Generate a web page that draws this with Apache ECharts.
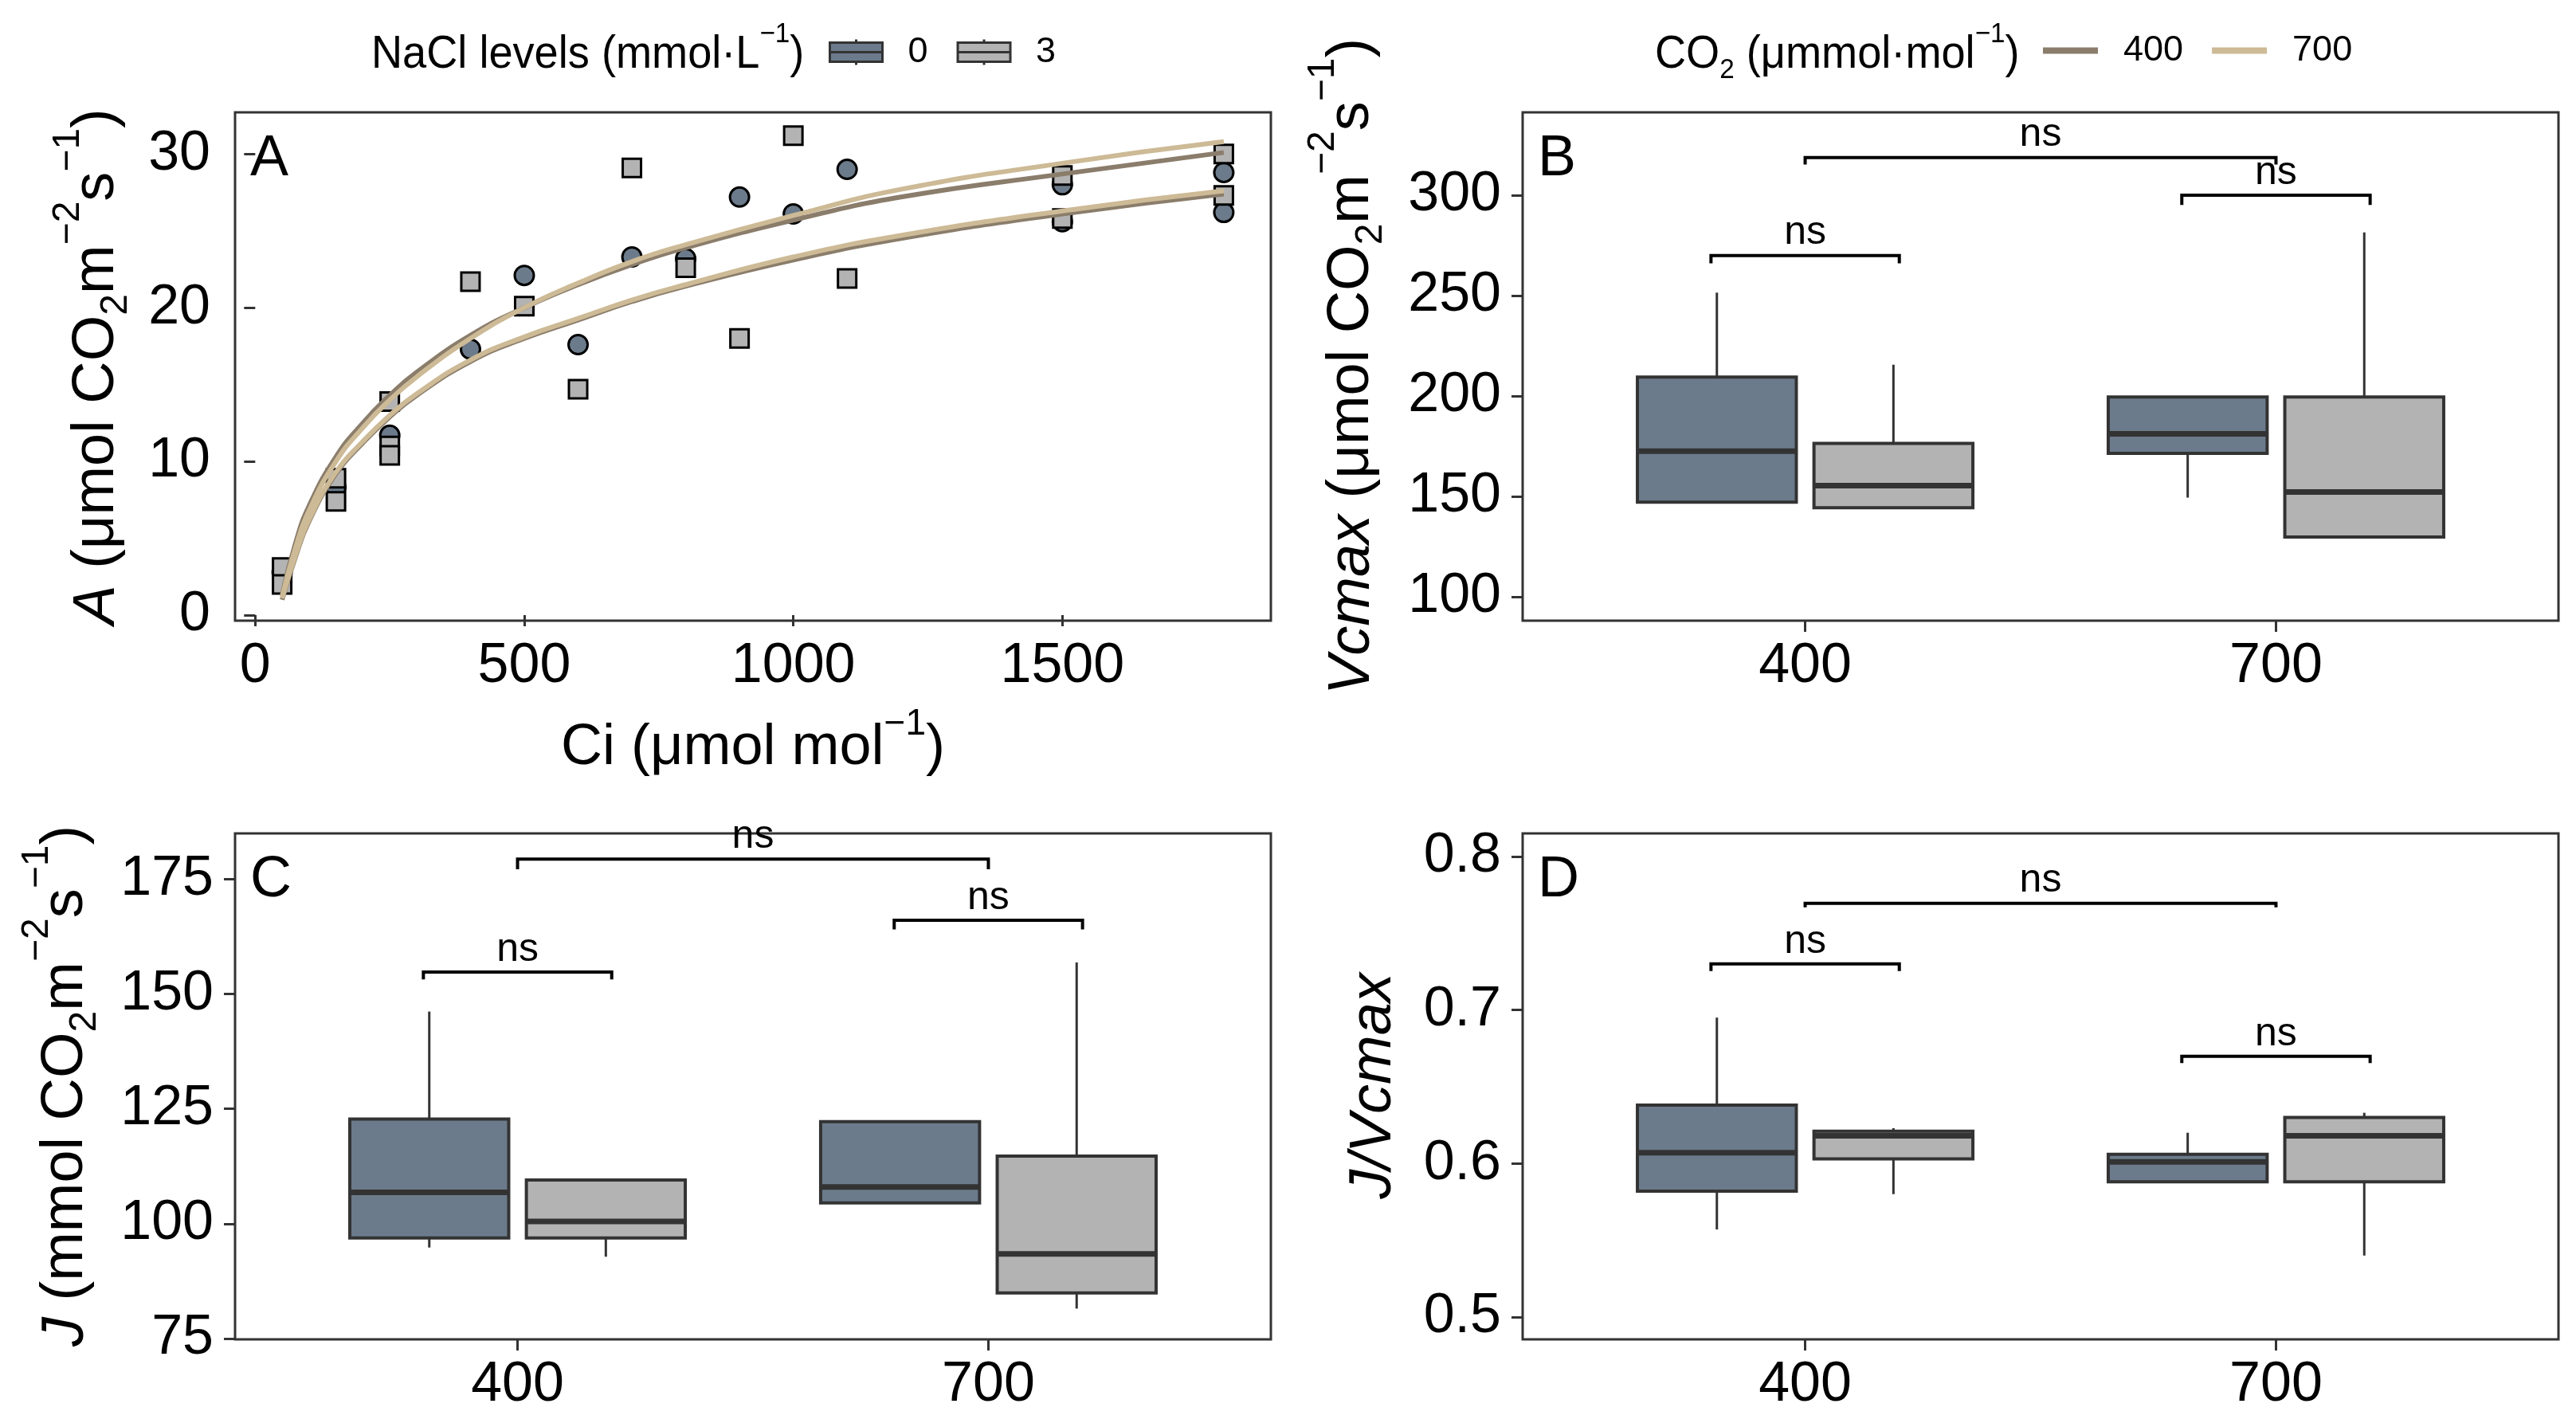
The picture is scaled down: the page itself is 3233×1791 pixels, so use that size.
<!DOCTYPE html>
<html>
<head>
<meta charset="utf-8">
<script src="https://cdn.jsdelivr.net/npm/echarts@6/dist/echarts.min.js"></script>
<style>
  html, body { margin: 0; padding: 0; background: #ffffff; }
  #chart { width: 3233px; height: 1791px; }
</style>
</head>
<body>
<div id="chart"></div>
<script>
// ---- panel A: A vs Ci ----
const ciTicks = [0, 500, 1000, 1500];
const aTicks = [0, 10, 20, 30];
const nacl0Points = [
  [50, 2.8], [150, 8.3], [250, 11.7], [400, 17.3], [500, 22.1], [600, 17.6],
  [700, 23.3], [800, 23.2], [900, 27.2], [1000, 26.1], [1100, 29.0],
  [1500, 28.0], [1500, 25.6], [1800, 28.8], [1800, 26.2]
];
const nacl3Points = [
  [50, 3.1], [50, 2.0], [150, 8.9], [150, 7.4], [250, 13.9], [250, 11.0], [250, 10.4],
  [400, 21.7], [500, 20.1], [600, 14.7], [700, 29.1], [800, 22.6], [900, 18.0],
  [1000, 31.2], [1100, 21.9], [1500, 28.6], [1500, 25.8], [1800, 30.0], [1800, 27.3]
];
const curveCi = [50, 75, 100, 150, 200, 250, 300, 400, 500, 600, 700, 800, 1000, 1200, 1500, 1800];
const curveHigh400 = [1.3, 4.7, 7.1, 10.3, 12.5, 14.3, 15.8, 18.2, 20.0, 21.5, 22.8, 23.9, 25.7, 27.2, 28.7, 30.1];
const curveHigh700 = [1.2, 4.4, 6.8, 10.0, 12.2, 14.0, 15.5, 18.0, 20.0, 21.6, 23.0, 24.1, 26.0, 27.7, 29.4, 30.8];
const curveLow400 = [1.0, 3.8, 6.1, 9.2, 11.2, 12.9, 14.3, 16.5, 18.0, 19.2, 20.4, 21.4, 23.1, 24.5, 26.1, 27.4];
const curveLow700 = [1.1, 3.9, 6.2, 9.3, 11.3, 13.0, 14.4, 16.6, 18.1, 19.3, 20.5, 21.5, 23.3, 24.7, 26.3, 27.6];

// ---- panels B-D: boxplots, rows are [group, min, q1, median, q3, max] ----
const co2Groups = ['400', '700'];
const vcmaxTicks = [100, 150, 200, 250, 300];
const vcmaxNacl0 = [[1, 147.1, 147.1, 172.5, 209.4, 251.5], [2, 149.4, 171.4, 181.2, 199.5, 199.5]];
const vcmaxNacl3 = [[1, 144.4, 144.4, 155.4, 176.4, 215.6], [2, 129.8, 129.8, 152.2, 199.5, 281.5]];
const vcmaxBrackets = [[1, 2, 318.8, 315.3], [1.8, 2.2, 300.0, 295.2], [0.8, 1.2, 270.0, 266.1]];

const jTicks = [75, 100, 125, 150, 175];
const jNacl0 = [[1, 94.8, 96.9, 106.8, 122.8, 146.2], [2, 104.5, 104.5, 108.0, 122.2, 122.2]];
const jNacl3 = [[1, 92.8, 96.9, 100.5, 109.5, 109.5], [2, 81.5, 84.9, 93.4, 114.7, 156.9]];
const jBrackets = [[1, 2, 179.4, 177.2], [1.8, 2.2, 166.1, 164.1], [0.8, 1.2, 154.8, 153.2]];

const ratioTicks = [0.5, 0.6, 0.7, 0.8];
const ratioNacl0 = [[1, 0.557, 0.582, 0.607, 0.638, 0.695], [2, 0.588, 0.588, 0.601, 0.606, 0.620]];
const ratioNacl3 = [[1, 0.580, 0.603, 0.618, 0.621, 0.623], [2, 0.540, 0.588, 0.618, 0.630, 0.633]];
const ratioBrackets = [[1, 2, 0.7695, 0.7668], [0.8, 1.2, 0.730, 0.7253], [1.8, 2.2, 0.6698, 0.6654]];
const sigLabels = ['ns', 'ns', 'ns'];

const FONT = 'Liberation Sans, Arial, sans-serif';
const NACL0_COLOR = '#6C7B8B';
const NACL3_COLOR = '#B3B3B3';
const CO2_400_COLOR = '#8B7D6B';
const CO2_700_COLOR = '#CDBA96';
const INK = '#333333';
const BOX_WIDTH = 0.3375;
const DODGE = 0.1875;

// rich text piece, all centred on the line; padding shifts sup / sub
function rt(size, extra) {
  return Object.assign({ fontSize: size, verticalAlign: 'middle', fontFamily: FONT,
    fontWeight: 'normal', color: '#000' }, extra || {});
}
const yTitleRich = {
  n: rt(74),
  i: rt(74, { fontStyle: 'italic' }),
  sup: rt(48, { padding: [0, 0, 72, 0] }),
  sub: rt(48, { padding: [48, 0, 0, 0] })
};
const xTitleRich = {
  n: rt(72),
  sup: rt(46, { padding: [0, 0, 59, 0] })
};
const headRich = {
  n: rt(57),
  sup: rt(35, { padding: [0, 0, 52, 0] }),
  sub: rt(35, { padding: [39, 0, 0, 0] })
};
const legendItemRich = {
  sp: { width: 27, fontSize: 45, fontFamily: FONT },
  t: rt(45, { lineHeight: 56 })
};

const grids = [
  { left: 295, top: 141, width: 1300, height: 638 },
  { left: 1911, top: 141, width: 1300, height: 638 },
  { left: 295, top: 1046, width: 1300, height: 635 },
  { left: 1911, top: 1046, width: 1300, height: 635 }
].map(g => Object.assign({ show: true, borderColor: INK, borderWidth: 3, backgroundColor: 'transparent' }, g));

function axisBase(gridIndex, min, max, ticks, margin) {
  return {
    type: 'value', gridIndex, min, max,
    splitLine: { show: false },
    axisLine: { show: false },
    axisTick: { show: true, customValues: ticks, length: 14, lineStyle: { color: INK, width: 3 } },
    axisLabel: { customValues: ticks, margin, fontSize: 70, fontFamily: FONT, color: '#000',
                 formatter: v => String(v) }
  };
}

function groupAxis(gridIndex) {
  const ax = axisBase(gridIndex, 0.4, 2.6, [1, 2], 23);
  ax.axisLabel.formatter = v => co2Groups[Math.round(v) - 1];
  return ax;
}

function boxRender(offset) {
  return function (params, api) {
    const x = api.value(0) + offset;
    const lo = api.coord([x, api.value(1)]);
    const q1 = api.coord([x, api.value(2)]);
    const md = api.coord([x, api.value(3)]);
    const q3 = api.coord([x, api.value(4)]);
    const hi = api.coord([x, api.value(5)]);
    const half = api.size([BOX_WIDTH, 0])[0] / 2;
    const whisker = { stroke: INK, lineWidth: 3 };
    return {
      type: 'group',
      children: [
        { type: 'line', shape: { x1: hi[0], y1: hi[1], x2: q3[0], y2: q3[1] }, style: whisker },
        { type: 'line', shape: { x1: q1[0], y1: q1[1], x2: lo[0], y2: lo[1] }, style: whisker },
        { type: 'rect', shape: { x: q3[0] - half, y: q3[1], width: half * 2, height: q1[1] - q3[1] },
          style: { fill: api.visual('color'), stroke: INK, lineWidth: 4 } },
        { type: 'line', shape: { x1: md[0] - half, y1: md[1], x2: md[0] + half, y2: md[1] },
          style: { stroke: INK, lineWidth: 7 } }
      ]
    };
  };
}

function bracketRender(params, api) {
  const a = api.coord([api.value(0), api.value(3)]);
  const b = api.coord([api.value(0), api.value(2)]);
  const c = api.coord([api.value(1), api.value(2)]);
  const d = api.coord([api.value(1), api.value(3)]);
  return {
    type: 'group',
    children: [
      { type: 'polyline', shape: { points: [a, b, c, d] }, style: { stroke: '#000', lineWidth: 4, fill: null } },
      { type: 'text', x: (b[0] + c[0]) / 2, y: b[1] - 3,
        style: { text: sigLabels[params.dataIndex], fontSize: 50, fontFamily: FONT, fill: '#000',
                 align: 'center', verticalAlign: 'bottom' } }
    ]
  };
}

function boxSeries(gridIndex, name, data, offset, color) {
  return {
    type: 'custom', name, xAxisIndex: gridIndex, yAxisIndex: gridIndex,
    renderItem: boxRender(offset), itemStyle: { color },
    encode: { x: 0, y: [1, 2, 3, 4, 5] }, data
  };
}

function bracketSeries(gridIndex, data) {
  return {
    type: 'custom', xAxisIndex: gridIndex, yAxisIndex: gridIndex, silent: true,
    renderItem: bracketRender, encode: { x: [0, 1], y: [2, 3] }, data
  };
}

function curveSeries(name, values, color) {
  return {
    type: 'line', name, xAxisIndex: 0, yAxisIndex: 0, smooth: true, showSymbol: false,
    lineStyle: { color, width: 6 }, itemStyle: { color }, z: 3,
    data: curveCi.map((ci, i) => [ci, values[i]])
  };
}

// axis titles and legend headings as free text
function yTitleText(x, y, text) {
  return { type: 'text', x, y, rotation: Math.PI / 2,
    style: { text, rich: yTitleRich, align: 'center', verticalAlign: 'middle' } };
}
function headText(x, text) {
  return { type: 'text', x, y: 69, scaleX: 0.95,
    style: { text, rich: headRich, align: 'left', verticalAlign: 'middle' } };
}

const letterStyle = { fontSize: 72, fontWeight: 'normal', fontFamily: FONT, color: '#000' };
const boxIcon = 'path://M0,4H66V28H0Z M0,16H66 M33,0V4 M33,28V32';

const option = {
  animation: false,
  backgroundColor: '#ffffff',
  grid: grids,
  title: [
    { text: 'A', left: 314, top: 164, padding: 0, textStyle: letterStyle },
    { text: 'B', left: 1930, top: 164, padding: 0, textStyle: letterStyle },
    { text: 'C', left: 314, top: 1069, padding: 0, textStyle: letterStyle },
    { text: 'D', left: 1930, top: 1069, padding: 0, textStyle: letterStyle }
  ],
  graphic: { elements: [
    headText(466, '{n|NaCl levels (mmol·L}{sup|−1}{n|)}'),
    headText(2077, '{n|CO}{sub|2}{n| (μmmol·mol}{sup|−1}{n|)}'),
    yTitleText(122, 460, '{i|A}{n| (μmol CO}{sub|2}{n|m}{sup|−2}{n|s}{sup|−1}{n|)}'),
    yTitleText(1697, 460, '{i|Vcmax}{n| (μmol CO}{sub|2}{n|m}{sup|−2}{n|s}{sup|−1}{n|)}'),
    yTitleText(83, 1363, '{i|J}{n| (mmol CO}{sub|2}{n|m}{sup|−2}{n|s}{sup|−1}{n|)}'),
    yTitleText(1724, 1363, '{i|J/Vcmax}'),
    { type: 'text', x: 945, y: 939,
      style: { text: '{n|Ci (μmol mol}{sup|−1}{n|)}', rich: xTitleRich, align: 'center', verticalAlign: 'middle' } }
  ] },
  legend: [
    {
      left: 1040, top: 43, padding: 0, itemWidth: 66, itemHeight: 32, itemGap: 36, selectedMode: false,
      formatter: name => '{sp| }{t|' + name + '}',
      textStyle: { rich: legendItemRich },
      data: [
        { name: '0', icon: boxIcon, itemStyle: { color: NACL0_COLOR, borderColor: INK, borderWidth: 3 } },
        { name: '3', icon: boxIcon, itemStyle: { color: NACL3_COLOR, borderColor: INK, borderWidth: 3 } }
      ]
    },
    {
      left: 2564, top: 41, padding: 0, itemWidth: 69, itemHeight: 8, itemGap: 36, selectedMode: false,
      formatter: name => '{sp| }{t|' + name + '}',
      textStyle: { rich: legendItemRich },
      data: [
        { name: '400', icon: 'rect', itemStyle: { color: CO2_400_COLOR, borderWidth: 0 } },
        { name: '700', icon: 'rect', itemStyle: { color: CO2_700_COLOR, borderWidth: 0 } }
      ]
    }
  ],
  xAxis: [axisBase(0, -37.5, 1887.5, ciTicks, 23), groupAxis(1), groupAxis(2), groupAxis(3)],
  yAxis: [
    axisBase(0, -0.36, 32.71, aTicks, 31),
    axisBase(1, 88.1, 341.3, vcmaxTicks, 27),
    axisBase(2, 74.8, 185.0, jTicks, 27),
    axisBase(3, 0.4854, 0.815, ratioTicks, 27)
  ],
  series: [
    {
      type: 'scatter', name: '0', xAxisIndex: 0, yAxisIndex: 0, symbol: 'circle', symbolSize: 24,
      itemStyle: { color: NACL0_COLOR, borderColor: '#000', borderWidth: 3, opacity: 1 }, z: 2, data: nacl0Points
    },
    {
      type: 'scatter', name: '3', xAxisIndex: 0, yAxisIndex: 0, symbol: 'rect', symbolSize: 23,
      itemStyle: { color: NACL3_COLOR, borderColor: '#000', borderWidth: 3, opacity: 1 }, z: 2, data: nacl3Points
    },
    curveSeries('400', curveHigh400, CO2_400_COLOR),
    curveSeries('700', curveHigh700, CO2_700_COLOR),
    curveSeries('400', curveLow400, CO2_400_COLOR),
    curveSeries('700', curveLow700, CO2_700_COLOR),

    boxSeries(1, '0', vcmaxNacl0, -DODGE, NACL0_COLOR),
    boxSeries(1, '3', vcmaxNacl3, DODGE, NACL3_COLOR),
    bracketSeries(1, vcmaxBrackets),

    boxSeries(2, '0', jNacl0, -DODGE, NACL0_COLOR),
    boxSeries(2, '3', jNacl3, DODGE, NACL3_COLOR),
    bracketSeries(2, jBrackets),

    boxSeries(3, '0', ratioNacl0, -DODGE, NACL0_COLOR),
    boxSeries(3, '3', ratioNacl3, DODGE, NACL3_COLOR),
    bracketSeries(3, ratioBrackets)
  ]
};

const chart = echarts.init(document.getElementById('chart'));
chart.setOption(option);
</script>
</body>
</html>
